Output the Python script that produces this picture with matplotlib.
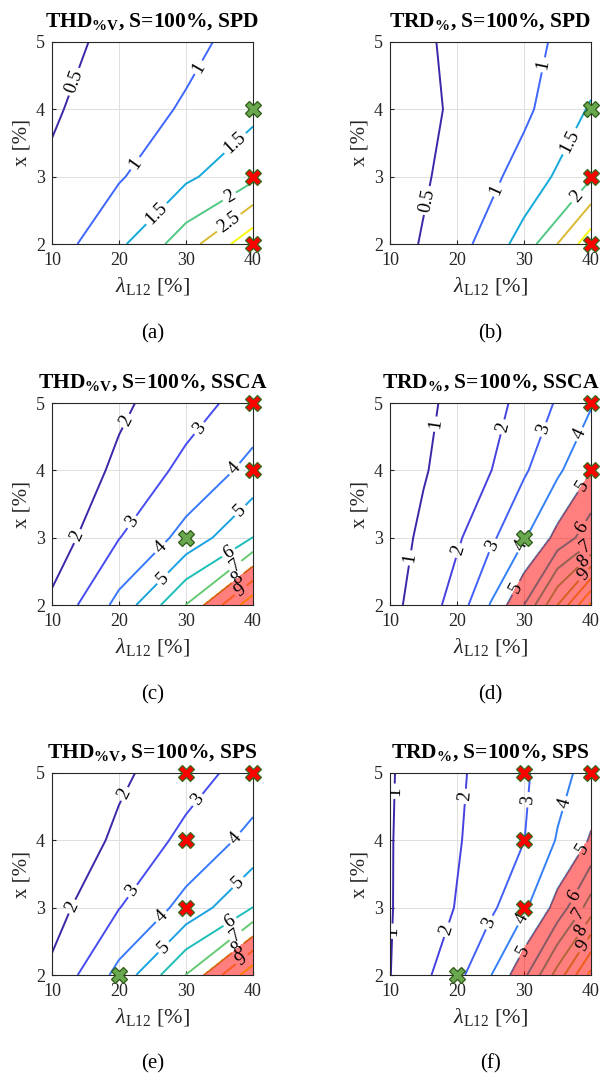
import numpy as np
import matplotlib
matplotlib.use('Agg')
import matplotlib.pyplot as plt
from matplotlib.colors import LinearSegmentedColormap, Normalize

# ---------------- data ----------------
x_coarse = [10, 20, 30, 40]
x_fine = [10, 15, 20, 25, 30, 35, 40]
y_vals = [2, 3, 4, 5]

# rows: y = 2, 3, 4, 5
thd_spd = [[0.755, 1.40, 2.27, 3.36],
           [0.58, 0.955, 1.41, 1.88],
           [0.44, 0.78, 1.05, 1.37],
           [0.38, 0.60, 0.883, 1.175]]
trd_spd = [[0.29, 0.79, 1.70, 3.31],
           [0.337, 0.60, 1.19, 1.95],
           [0.33, 0.545, 0.903, 1.55],
           [0.32, 0.58, 0.8875, 1.20]]
thd_ssca = [[2.19, 4.30, 7.02, 10.7],
            [1.43, 2.97, 4.33, 6.02],
            [1.20, 2.20, 3.27, 4.30],
            [0.90, 1.82, 2.57, 3.43]]
trd_ssca = [[0.72, 1.45, 2.45, 4.05, 6.0, 9.0, 12.2],
            [0.55, 1.20, 1.85, 2.80, 3.9, 5.3, 6.6],
            [0.50, 0.92, 1.45, 1.97, 2.87, 3.82, 4.97],
            [0.45, 0.80, 1.25, 1.65, 2.30, 3.10, 3.90]]
thd_sps = [[2.19, 4.30, 7.02, 10.7],
           [1.61, 2.97, 4.33, 6.02],
           [1.20, 2.20, 3.27, 4.30],
           [0.90, 1.82, 2.57, 3.43]]
trd_sps = [[0.98, 1.78, 2.70, 3.95, 5.75, 8.4, 11.3],
           [0.95, 1.50, 2.05, 2.80, 3.82, 5.35, 7.5],
           [0.95, 1.45, 1.92, 2.45, 2.98, 4.08, 5.10],
           [0.93, 1.40, 1.85, 2.35, 2.85, 3.65, 4.40]]

levels_spd = [0.5, 1, 1.5, 2, 2.5, 3]
levels_thd = [2, 3, 4, 5, 6, 7, 8, 9, 10]
levels_trd = [1, 2, 3, 4, 5, 6, 7, 8, 9, 10, 11, 12]
thd_limit = 8
trd_limit = 5

xticks = [10, 20, 30, 40]
yticks = [2, 3, 4, 5]

titles = [r'THD$_{\mathbf{\%V}}$, S=100%, SPD', r'TRD$_{\mathbf{\%}}$, S=100%, SPD',
          r'THD$_{\mathbf{\%V}}$, S=100%, SSCA', r'TRD$_{\mathbf{\%}}$, S=100%, SSCA',
          r'THD$_{\mathbf{\%V}}$, S=100%, SPS', r'TRD$_{\mathbf{\%}}$, S=100%, SPS']
captions = ['(a)', '(b)', '(c)', '(d)', '(e)', '(f)']

red_pts = [[(40, 3), (40, 2)], [(40, 3), (40, 2)],
           [(40, 5), (40, 4)], [(40, 5), (40, 4)],
           [(30, 5), (40, 5), (30, 4), (30, 3)], [(30, 5), (40, 5), (30, 4), (30, 3)]]
green_pts = [[(40, 4)], [(40, 4)], [(30, 3)], [(30, 3)], [(20, 2)], [(20, 2)]]

# ---------------- style / layout ----------------
plt.rcParams['font.family'] = ['Liberation Serif', 'DejaVu Serif']
plt.rcParams['mathtext.fontset'] = 'custom'
plt.rcParams['mathtext.rm'] = 'Liberation Serif'
plt.rcParams['mathtext.it'] = 'Liberation Serif:italic'
plt.rcParams['mathtext.bf'] = 'Liberation Serif:bold'

parula = LinearSegmentedColormap.from_list('parula', [
    (0.2422, 0.1504, 0.6603), (0.2803, 0.2782, 0.9221), (0.2440, 0.4358, 0.9988),
    (0.1540, 0.5902, 0.9218), (0.0297, 0.7082, 0.8163), (0.1938, 0.7758, 0.6251),
    (0.5044, 0.7993, 0.3480), (0.8184, 0.7327, 0.1833), (0.9856, 0.7372, 0.2537),
    (0.9763, 0.9831, 0.0538)])

# (level, x, y) label anchors
label_pos = [
    [(0.5, 12.2, 4.45), (1, 32.3, 4.6), (1, 22.4, 3.2), (1.5, 37.3, 3.5), (1.5, 25.6, 2.45),
     (2, 36.5, 2.7), (2.5, 36.5, 2.3)],
    [(0.5, 15.3, 2.65), (1, 32.9, 4.66), (1, 26.1, 2.8), (1.5, 36.9, 3.52), (2, 37.9, 2.7)],
    [(2, 21.2, 4.73), (2, 13.6, 3.03), (3, 32.3, 4.6), (3, 22.4, 3.2), (4, 37.5, 4.0),
     (4, 26.5, 2.82), (5, 38.3, 3.38), (5, 26.6, 2.39), (6, 36.4, 2.77), (7, 37.4, 2.58),
     (8, 37.8, 2.38), (9, 38.3, 2.2)],
    [(1, 17.2, 4.68), (1, 13.6, 2.69), (2, 26.6, 4.65), (2, 20.8, 2.79), (3, 33.1, 4.6),
     (3, 26.1, 2.84), (4, 38.4, 4.53), (4, 30.0, 2.86), (5, 39.4, 3.73), (5, 28.7, 2.26),
     (6, 37.9, 3.2), (7, 38.9, 2.9), (8, 38.6, 2.68), (9, 38.3, 2.5)],
    [(2, 21.0, 4.68), (2, 13.3, 3.0), (3, 32.0, 4.58), (3, 22.4, 3.22), (4, 37.4, 4.03),
     (4, 26.5, 2.85), (5, 37.8, 3.37), (5, 26.5, 2.43), (6, 36.5, 2.8), (7, 37.3, 2.6),
     (8, 37.8, 2.38), (9, 38.4, 2.22)],
    [(1, 10.4, 4.73), (1, 10.4, 2.65), (2, 21.7, 4.65), (2, 18.5, 2.67), (3, 30.9, 4.6),
     (3, 25.0, 2.77), (4, 36.6, 4.53), (4, 30.3, 2.8), (5, 39.4, 3.84), (5, 30.3, 2.33),
     (6, 37.9, 3.15), (7, 39.0, 2.85), (8, 38.7, 2.65), (9, 38.6, 2.45)],
]

panels = [
    (x_coarse, thd_spd, levels_spd, None),
    (x_coarse, trd_spd, levels_spd, None),
    (x_coarse, thd_ssca, levels_thd, thd_limit),
    (x_fine, trd_ssca, levels_trd, trd_limit),
    (x_coarse, thd_sps, levels_thd, thd_limit),
    (x_fine, trd_sps, levels_trd, trd_limit),
]

W, H = 612, 1084
fig = plt.figure(figsize=(W / 100, H / 100), dpi=100)
lefts = [52, 390]
tops = [42, 403, 773]
aw, ah = 201, 202
cap_y = [334, 695, 1064]
txtc = '#262626'

for i, (xg, Z, lev, lim) in enumerate(panels):
    r, c = divmod(i, 2)
    ax = fig.add_axes([lefts[c] / W, 1 - (tops[r] + ah) / H, aw / W, ah / H])
    X, Y = np.meshgrid(xg, y_vals)
    Z = np.array(Z)
    norm = Normalize(vmin=lev[0], vmax=lev[-1])
    for lv in lev:
        cs = ax.contour(X, Y, Z, levels=[lv], colors=[parula(norm(lv))], linewidths=1.4,
                        zorder=2)
        pos = [(lx, ly) for (l2, lx, ly) in label_pos[i] if l2 == lv]
        if pos and len(cs.allsegs[0]) > 0:
            ax.clabel(cs, inline=True, fontsize=13.5, colors='k', fmt=lambda v: f'{v:g}',
                      manual=pos, inline_spacing=3)
    if lim is not None:
        ax.contourf(X, Y, Z, levels=[lim, 1000], colors=[(1, 0, 0)], alpha=0.5, zorder=3)
    for (px, py) in red_pts[i]:
        ax.plot(px, py, marker='X', ms=12, mfc='#ff0000', mec='#3a6b1e', mew=0.9,
                ls='none', clip_on=False, zorder=6)
    for (px, py) in green_pts[i]:
        ax.plot(px, py, marker='X', ms=12, mfc='#6aa84f', mec='#2f5a17', mew=0.9,
                ls='none', clip_on=False, zorder=6)
    ax.set_xlim(10, 40)
    ax.set_ylim(2, 5)
    ax.set_xticks(xticks)
    ax.set_yticks(yticks)
    ax.grid(True, color='#dedede', linewidth=0.7, zorder=0)
    ax.set_axisbelow(True)
    ax.tick_params(direction='in', length=3, labelsize=13, colors=txtc)
    ax.tick_params(axis='x', pad=6)
    ax.tick_params(axis='y', pad=5)
    for s in ax.spines.values():
        s.set_color(txtc)
        s.set_linewidth(0.8)
    ax.set_title(titles[i], fontsize=15.5, fontweight='bold', pad=11)
    ax.set_xlabel(r'$\lambda_{\mathrm{L12}}$ [%]', fontsize=16, color=txtc, labelpad=4)
    ax.set_ylabel('x [%]', fontsize=15, color=txtc, labelpad=3)
    fig.text((lefts[c] + aw / 2) / W, 1 - cap_y[r] / H, captions[i], ha='center', va='center',
             fontsize=15)

fig.savefig('out.png', dpi=100)
